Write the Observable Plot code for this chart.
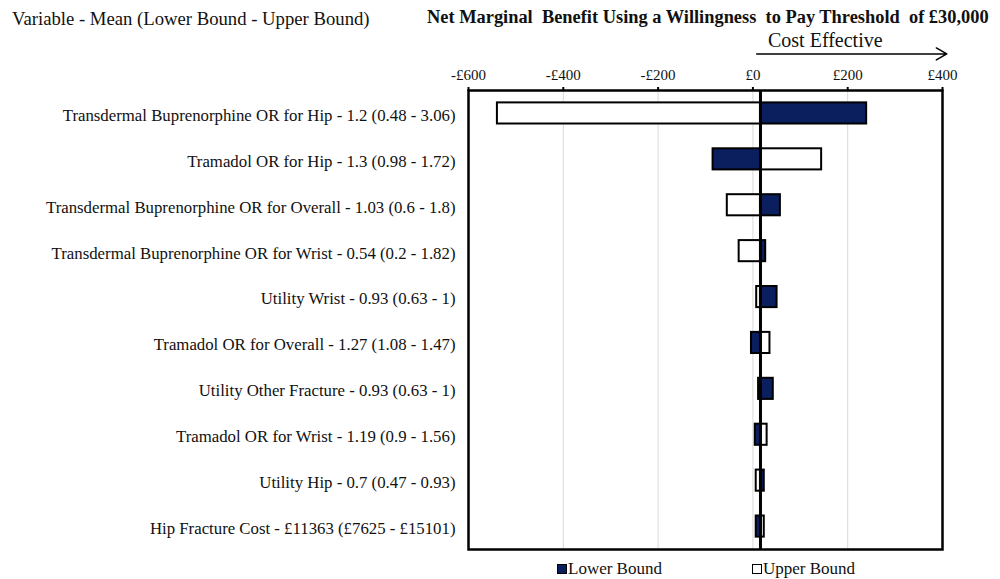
<!DOCTYPE html>
<html>
<head>
<meta charset="utf-8">
<script src="https://cdn.jsdelivr.net/npm/d3@7"></script>
<script src="https://cdn.jsdelivr.net/npm/@observablehq/plot@0.6"></script>
<style>
  body { margin: 0; background: #fff; font-family: "Liberation Serif", "Times New Roman", serif; }
  #wrap { position: relative; width: 1000px; height: 579px; overflow: hidden; }
  #wrap svg { position: absolute; left: 0; top: 0; }
  .ov { position: absolute; white-space: pre; color: #111; line-height: 1; }
  .sw { display: inline-block; width: 8px; height: 8px; border: 1.5px solid #000; vertical-align: 0px; margin-right: 1px; }
</style>
</head>
<body>
<div id="wrap">
  <div class="ov" style="left:12px; top:10px; font-size:18.7px;">Variable - Mean (Lower Bound - Upper Bound)</div>
  <div class="ov" style="left:427px; top:8px; font-size:18.4px; font-weight:bold;">Net Marginal  Benefit Using a Willingness  to Pay Threshold  of £30,000</div>
  <div class="ov" style="left:768px; top:30px; font-size:20px;">Cost Effective</div>
  <div class="ov" style="left:557px; top:560px; font-size:17px;"><span class="sw" style="background:#0b1f5e"></span>Lower Bound</div>
  <div class="ov" style="left:752px; top:560px; font-size:17px;"><span class="sw" style="background:#fff"></span>Upper Bound</div>
</div>
<script>
const variables = [
  "Transdermal Buprenorphine OR for Hip - 1.2 (0.48 - 3.06)",
  "Tramadol OR for Hip - 1.3 (0.98 - 1.72)",
  "Transdermal Buprenorphine OR for Overall - 1.03 (0.6 - 1.8)",
  "Transdermal Buprenorphine OR for Wrist - 0.54 (0.2 - 1.82)",
  "Utility Wrist - 0.93 (0.63 - 1)",
  "Tramadol OR for Overall - 1.27 (1.08 - 1.47)",
  "Utility Other Fracture - 0.93 (0.63 - 1)",
  "Tramadol OR for Wrist - 1.19 (0.9 - 1.56)",
  "Utility Hip - 0.7 (0.47 - 0.93)",
  "Hip Fracture Cost - £11363 (£7625 - £15101)"
];
const lowerBound = [240, -84, 58, 27, 51, -3, 43, 5, 24, 7];
const upperBound = [-539, 145, -54, -29, 8, 36, 12, 30, 7, 24];
const baseValue = 16;
const xTicks = [-600, -400, -200, 0, 200, 400];
const arrowRange = [8, 409];

const lowerRows = variables.map((v, i) => ({variable: v, value: lowerBound[i]}));
const upperRows = variables.map((v, i) => ({variable: v, value: upperBound[i]}));
const fmt = d => (d < 0 ? "-" : "") + "£" + Math.abs(d);

const chart = Plot.plot({
  width: 1000,
  height: 579,
  marginLeft: 468,
  marginRight: 58,
  marginTop: 90,
  marginBottom: 30,
  style: {fontFamily: "'Liberation Serif', 'Times New Roman', serif", color: "#111", background: "transparent"},
  x: {domain: [-600, 400], ticks: xTicks, tickFormat: fmt, axis: null},
  y: {domain: variables, paddingInner: 0.54, paddingOuter: 0.27, round: false, axis: null},
  marks: [
    Plot.ruleX(xTicks.slice(1, -1), {stroke: "#d9d9d9", strokeWidth: 1}),
    Plot.barX(upperRows, {y: "variable", x1: baseValue, x2: "value", fill: "#ffffff", stroke: "#000", strokeWidth: 2}),
    Plot.barX(lowerRows, {y: "variable", x1: baseValue, x2: "value", fill: "#0b1f5e", stroke: "#000", strokeWidth: 2}),
    Plot.ruleX([baseValue], {stroke: "#000", strokeWidth: 3}),
    Plot.frame({stroke: "#000", strokeWidth: 2.5}),
    Plot.axisX({anchor: "top", ticks: xTicks, tickFormat: fmt, tickSize: 4, tickPadding: 7, fontSize: 15, stroke: "#000", strokeWidth: 2}),
    Plot.axisY({anchor: "left", tickSize: 0, tickPadding: 13, fontSize: 16.8, dy: 2, label: null}),
    Plot.arrow([{a: arrowRange[0], b: arrowRange[1], v: variables[0]}], {x1: "a", x2: "b", y1: "v", y2: "v", dy: -59.5, stroke: "#000", strokeWidth: 1.5, headLength: 12, bend: 0})
  ]
});
document.getElementById("wrap").appendChild(chart);
</script>
</body>
</html>
